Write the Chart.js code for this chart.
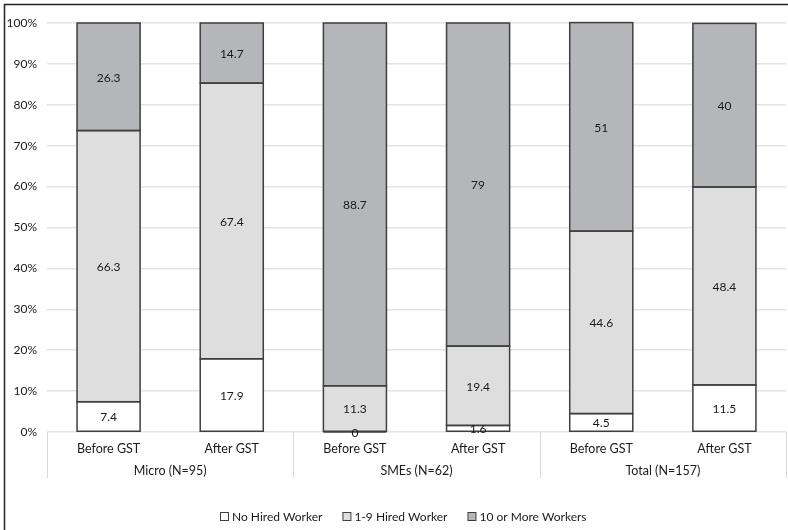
<!DOCTYPE html>
<html>
<head>
<meta charset="utf-8">
<script src="https://cdn.jsdelivr.net/npm/chart.js@4.4.1/dist/chart.umd.min.js"></script>
<style>
  html, body { margin: 0; padding: 0; background: #fff; }
  #wrap { width: 788px; height: 530px; position: relative; }
</style>
</head>
<body>
<div id="wrap"><canvas id="c" width="788" height="530"></canvas></div>
<script>
// Sub-categories along the x axis and the groups they belong to
const categories = ['Before GST', 'After GST', 'Before GST', 'After GST', 'Before GST', 'After GST'];
const groups = ['Micro (N=95)', 'SMEs (N=62)', 'Total (N=157)'];

// Share of firms (%) by number of hired workers
const noHired = [7.4, 17.9, 0, 1.6, 4.5, 11.5];
const hired1to9 = [66.3, 67.4, 11.3, 19.4, 44.6, 48.4];
const tenOrMore = [26.3, 14.7, 88.7, 79, 51, 40];

const seriesNames = ['No Hired Worker', '1-9 Hired Worker', '10 or More Workers'];
const seriesColors = ['#ffffff', '#dedede', '#b4b6b9'];

const FONT = 'Lato, "Open Sans", sans-serif';
const TEXT = '#1a1a1a';
const EDGE = '#3f3f3f';

const framePlugin = {
  id: 'frame',
  beforeDraw(chart) {
    const ctx = chart.ctx;
    ctx.save();
    ctx.fillStyle = '#fff';
    ctx.fillRect(0, 0, chart.width, chart.height);
    ctx.strokeStyle = '#222';
    ctx.lineWidth = 1.5;
    ctx.beginPath();
    ctx.moveTo(4.5, chart.height);
    ctx.lineTo(4.5, 4.5);
    ctx.lineTo(chart.width, 4.5);
    ctx.stroke();
    ctx.restore();
  }
};

// outline each segment once, centred on its edges, so shared edges stay single
const outlinePlugin = {
  id: 'outline',
  afterDatasetsDraw(chart) {
    const ctx = chart.ctx;
    ctx.save();
    ctx.strokeStyle = EDGE;
    ctx.lineWidth = 1.5;
    chart.data.datasets.forEach((ds, di) => {
      chart.getDatasetMeta(di).data.forEach(bar => {
        const left = bar.x - bar.width / 2;
        const top = Math.min(bar.y, bar.base);
        const h = Math.abs(bar.base - bar.y);
        ctx.strokeRect(left, top, bar.width, h);
      });
    });
    ctx.restore();
  }
};

const decorPlugin = {
  id: 'decor',
  afterDraw(chart) {
    const ctx = chart.ctx;
    const xs = chart.scales.x;
    const area = chart.chartArea;
    ctx.save();

    // value labels centred in each segment
    ctx.font = '12px ' + FONT;
    ctx.fillStyle = TEXT;
    ctx.textAlign = 'center';
    ctx.textBaseline = 'middle';
    chart.data.datasets.forEach((ds, di) => {
      const meta = chart.getDatasetMeta(di);
      meta.data.forEach((bar, i) => {
        const v = ds.data[i];
        const y = (bar.y + bar.base) / 2;
        ctx.fillText(String(v), bar.x, y + 1);
      });
    });

    // group separators and group names on the category axis
    ctx.strokeStyle = '#d9d9d9';
    ctx.lineWidth = 1;
    const bottom = area.bottom + 46;
    const bounds = [area.left];
    for (let g = 0; g < groups.length - 1; g++) {
      bounds.push((xs.getPixelForValue(2 * g + 1) + xs.getPixelForValue(2 * g + 2)) / 2);
    }
    bounds.push(area.right);
    bounds.forEach(bx => {
      const x = Math.round(bx) + 0.5;
      ctx.beginPath();
      ctx.moveTo(x, area.bottom);
      ctx.lineTo(x, bottom);
      ctx.stroke();
    });
    ctx.fillStyle = TEXT;
    ctx.font = '12.5px ' + FONT;
    groups.forEach((name, g) => {
      const cx = (xs.getPixelForValue(2 * g) + xs.getPixelForValue(2 * g + 1)) / 2;
      ctx.fillText(name, cx, area.bottom + 39);
    });

    // legend
    ctx.font = '12px ' + FONT;
    ctx.textAlign = 'left';
    let x = 220;
    const ly = 517;
    seriesNames.forEach((name, i) => {
      ctx.fillStyle = seriesColors[i];
      ctx.fillRect(x + 0.5, ly - 4.5, 8, 8);
      ctx.strokeStyle = EDGE;
      ctx.lineWidth = 1;
      ctx.strokeRect(x + 0.5, ly - 4.5, 8, 8);
      ctx.fillStyle = TEXT;
      ctx.fillText(name, x + 12, ly);
      x += 12 + ctx.measureText(name).width + 20;
    });

    ctx.restore();
  }
};

const datasets = [noHired, hired1to9, tenOrMore].map((vals, i) => ({
  label: seriesNames[i],
  data: vals,
  backgroundColor: seriesColors[i],
  borderWidth: 0,
  barPercentage: 0.512,
  categoryPercentage: 1
}));

new Chart(document.getElementById('c'), {
  type: 'bar',
  data: { labels: categories, datasets },
  options: {
    responsive: false,
    animation: false,
    layout: { padding: { top: 23, right: 2, left: 0, bottom: 0 } },
    plugins: { legend: { display: false }, tooltip: { enabled: false } },
    scales: {
      x: {
        stacked: true,
        grid: { display: false, drawTicks: false },
        border: { display: false },
        ticks: { color: TEXT, font: { family: FONT, size: 12.5 }, padding: 9, maxRotation: 0, autoSkip: false },
        afterFit(scale) { scale.height = 98; }
      },
      y: {
        stacked: true,
        min: 0,
        max: 100,
        grid: { color: '#e4e4e4', lineWidth: 1.5, drawTicks: false },
        border: { display: false },
        ticks: { stepSize: 10, color: TEXT, font: { family: FONT, size: 12 }, padding: 10, callback: v => v + '%' },
        afterFit(scale) { scale.width = 47; }
      }
    }
  },
  plugins: [framePlugin, outlinePlugin, decorPlugin]
});
</script>
</body>
</html>
